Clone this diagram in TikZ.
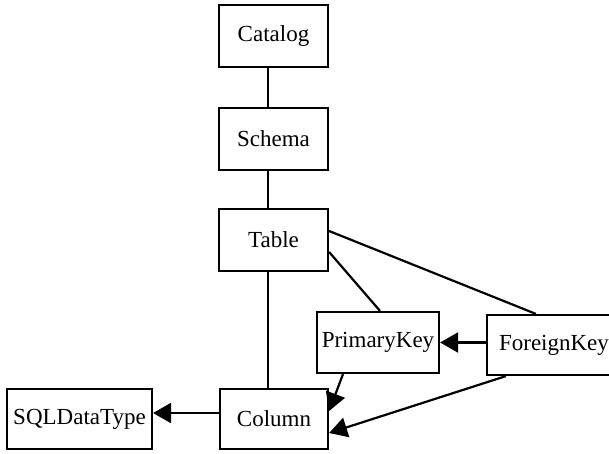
\documentclass[tikz,border=0pt]{standalone}
\usepackage{fontspec}
\setmainfont{Liberation Serif}
\usetikzlibrary{arrows.meta}
\begin{document}
\begin{tikzpicture}[x=1pt,y=-1pt,
  box/.style={draw,line width=2.2pt,rectangle,inner sep=0pt,
    font=\fontsize{23}{26}\selectfont},
  conn/.style={line width=2.2pt},
  arr/.style={line width=2.2pt,-{Triangle[length=18pt,width=20pt]}}]
\clip (0,0) rectangle (609,453);
\fill[white] (0,0) rectangle (609,453);
\node[box,minimum width=109pt,minimum height=62pt] (cat) at (273.5,36) {Catalog};
\node[box,minimum width=109pt,minimum height=62pt] (sch) at (273.5,139) {Schema};
\node[box,minimum width=109pt,minimum height=62pt] (tab) at (273.5,240) {Table};
\node[box,minimum width=122pt,minimum height=61pt] (pk) at (378,342.5) {PrimaryKey};
\node[box,minimum width=134pt,minimum height=60pt] (fk) at (554,345) {ForeignKey};
\node[box,minimum width=108pt,minimum height=60pt] (col) at (274,419) {Column};
\node[box,minimum width=145pt,minimum height=60pt] (sql) at (79.5,419) {SQLDataType};
\draw[conn] ([xshift=-5.5pt]cat.south) -- ([xshift=-5.5pt]sch.north);
\draw[conn] ([xshift=-5.5pt]sch.south) -- ([xshift=-5.5pt]tab.north);
\draw[conn] ([xshift=-5.5pt]tab.south) -- ([xshift=-6pt]col.north);
\draw[conn] ([yshift=-12pt]tab.east) -- ([xshift=2pt]pk.north);
\draw[conn] ([yshift=9pt]tab.east) -- ([xshift=50pt]fk.north west);
\draw[arr] (fk.west |- pk.east) -- (pk.east);
\draw[arr] ([xshift=-35pt]pk.south) -- ([yshift=8pt]col.east);
\draw[arr] ([xshift=20pt]fk.south west) -- ([yshift=-14pt]col.east);
\draw[arr] ([yshift=6pt]col.west) -- ([yshift=6pt]sql.east);
\end{tikzpicture}
\end{document}
